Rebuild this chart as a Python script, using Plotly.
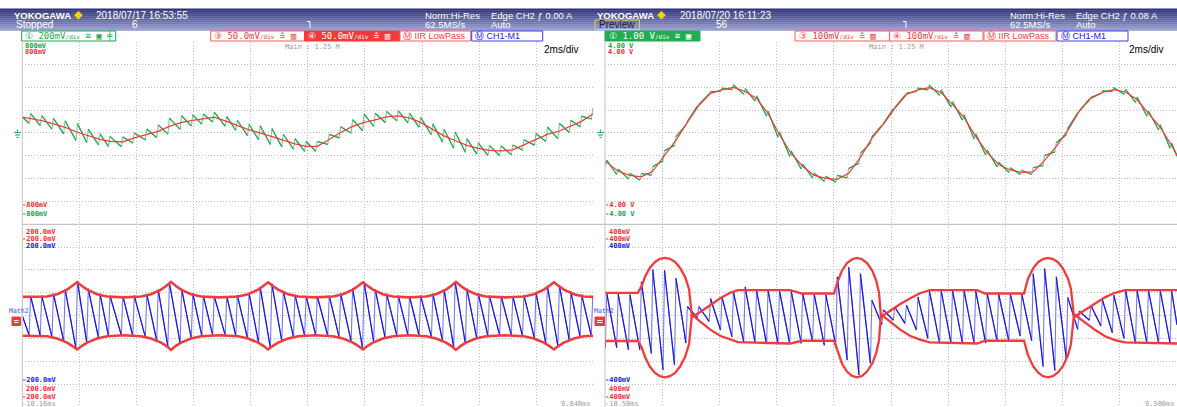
import plotly.graph_objects as go

W, H = 1177, 407
MONO = "DejaVu Sans Mono, monospace"
NARROW = "Liberation Sans Narrow, Liberation Sans, Arial, sans-serif"
SANS = "Liberation Sans, Arial, sans-serif"

C_GREEN = "#1fa84f"
C_GREEN_LT = "#74cf92"
C_RED = "#f03c3c"
C_BLUE = "#1818e6"
C_BLUE_LT = "#7878f2"
C_GRID = "#bcbcbc"
C_FRAME = "#c4c4c4"
C_GREY_TXT = "#9a9a9a"

# ---------------- left capture: 2018/07/17 16:53:55 ----------------
T_LEFT = (-10.16, 9.84)  # ms
tooth_t_left = [-9.87, -9.48, -9.07, -8.66, -8.23, -7.85, -7.44, -7.09, -6.64, -6.24,
                -5.80, -5.40, -5.01, -4.58, -4.19, -3.82, -3.44, -3.00, -2.63, -2.22,
                -1.83, -1.42, -1.02, -0.61, -0.22, 0.17, 0.59, 0.99, 1.41, 1.81,
                2.20, 2.60, 3.01, 3.40, 3.79, 4.22, 4.61, 5.00, 5.41, 5.81,
                6.20, 6.61, 7.02, 7.41, 7.83, 8.23, 8.65, 9.05, 9.43, 9.82]
# M1 = IIR low-pass of CH1 (mV) at each tooth
m1_left_mv = [127, 107, 79, 48, 6, -26, -57, -74, -79, -44,
              -13, 13, 57, 92, 109, 122, 138, 101, 66, 26,
              0, -31, -66, -96, -118, -118, -57, 4, 57, 92,
              114, 140, 149, 131, 92, 31, -26, -66, -109, -136,
              -153, -157, -149, -105, -57, -13, 17, 57, 101, 166]
m1_left_ends_mv = (138, 168)
# Math2 = CH1 - M1 (mV): peak of each tooth and the low point just before its edge
math2_hi_left_mv = [43, 44, 48, 58, 76, 59, 48, 44, 43, 44,
                    47, 57, 73, 59, 49, 44, 43, 43, 45, 50,
                    63, 70, 54, 46, 43, 43, 44, 49, 60, 74,
                    58, 48, 44, 43, 44, 48, 58, 74, 59, 49,
                    44, 43, 43, 45, 51, 65, 67, 53, 46, 43]
math2_lo_left_mv = [-43, -44, -47, -56, -72, -60, -49, -45, -43, -44,
                    -47, -55, -68, -61, -50, -45, -43, -43, -45, -50,
                    -60, -71, -56, -47, -44, -43, -44, -48, -57, -73,
                    -58, -49, -44, -43, -44, -47, -56, -69, -61, -50,
                    -45, -43, -43, -45, -50, -62, -67, -54, -47, -44]
math2_left_ends_mv = (0, 38)
# peak-hold envelope of Math2 (mV)
env_t_left = [-10.16, -9.29, -8.94, -8.59, -8.42, -8.24,
              -8.07, -7.89, -7.54, -7.19, -6.60, -6.00, -5.65, -5.30, -5.12, -4.95,
              -4.78, -4.60, -4.25, -3.90, -3.25, -2.60, -2.25, -1.90, -1.72, -1.55,
              -1.38, -1.20, -0.85, -0.50, 0.11, 0.72, 1.07, 1.42, 1.60, 1.77,
              1.94, 2.12, 2.47, 2.82, 3.40, 3.98, 4.33, 4.68, 4.86, 5.03,
              5.20, 5.38, 5.73, 6.08, 6.75, 7.41, 7.76, 8.11, 8.29, 8.46,
              8.63, 8.81, 9.16, 9.51, 9.84]
env_top_left_mv = [41, 42, 47, 57, 65, 73,
                   65, 57, 47, 42, 40, 42, 47, 57, 65, 74,
                   65, 57, 47, 42, 40, 42, 47, 57, 65, 73,
                   65, 57, 47, 42, 40, 42, 47, 57, 65, 73,
                   65, 57, 47, 42, 40, 42, 47, 57, 65, 74,
                   65, 57, 47, 42, 40, 42, 47, 57, 65, 73,
                   65, 57, 47, 42, 41]
env_bot_left_mv = [-44, -45, -50, -59, -66, -74,
                   -66, -59, -50, -45, -43, -45, -50, -59, -66, -75,
                   -66, -59, -50, -45, -43, -45, -50, -59, -66, -74,
                   -66, -59, -50, -45, -43, -45, -50, -59, -66, -74,
                   -66, -59, -50, -45, -43, -45, -50, -59, -66, -75,
                   -66, -59, -50, -45, -43, -45, -50, -59, -66, -74,
                   -66, -59, -50, -45, -44]

# ---------------- right capture: 2018/07/20 16:11:23 ----------------
T_RIGHT = (-10.50, 9.50)
tooth_t_right = [-10.44, -10.04, -9.63, -9.23, -8.83, -8.42, -8.02, -7.62, -7.22, -6.81,
                 -6.41, -6.01, -5.60, -5.20, -4.80, -4.40, -3.99, -3.59, -3.19, -2.78,
                 -2.38, -1.98, -1.57, -1.17, -0.77, -0.37, 0.04, 0.44, 0.84, 1.25,
                 1.65, 2.05, 2.46, 2.86, 3.26, 3.67, 4.07, 4.47, 4.87, 5.28,
                 5.68, 6.08, 6.49, 6.89, 7.29, 7.70, 8.10, 8.50, 8.91, 9.31]
m1_right_v = [-1.29, -1.68, -1.86, -1.92, -1.68, -0.98, -0.33, 0.46, 1.20, 1.73,
              1.88, 1.99, 1.81, 1.51, 0.85, -0.07, -0.90, -1.46, -1.86, -1.99,
              -2.03, -1.77, -1.07, -0.24, 0.37, 1.07, 1.68, 1.88, 1.98, 1.77,
              1.25, 0.68, -0.15, -0.85, -1.38, -1.62, -1.73, -1.71, -1.20, -0.59,
              0.11, 0.94, 1.51, 1.77, 1.89, 1.79, 1.46, 0.85, 0.25, -0.55]
m1_right_ends_v = (-1.25, -0.98)
math2_hi_right_mv = [100, 95, 92, 148, 202, 199, 164, 40, 40, 75,
                     82, 104, 126, 110, 112, 110, 108, 100, 95, 92,
                     170, 213, 184, 68, 25, 38, 46, 82, 111, 112,
                     112, 112, 110, 100, 97, 95, 97, 184, 206, 170,
                     80, 20, 45, 70, 90, 112, 112, 112, 112, 110]
math2_lo_right_mv = [-140, -140, -150, -150, -165, -238, -216, -120, -10, -25,
                     -63, -93, -115, -120, -125, -125, -125, -122, -115, -130,
                     -130, -195, -260, -209, -40, -20, -34, -63, -100, -122,
                     -122, -122, -122, -120, -110, -110, -90, -110, -224, -240,
                     -190, -60, -20, -45, -75, -100, -122, -122, -122, -122]
math2_right_ends_mv = (-100, -40)
env_t_right = [-10.50, -9.35, -9.21, -9.10, -8.93, -8.75, -8.58, -8.40, -8.23, -8.05,
               -7.88, -7.70, -7.56, -7.46, -7.18, -6.83, -6.48, -6.13, -5.85, -4.03,
               -3.61, -2.49, -2.35, -2.21, -2.04, -1.86, -1.69, -1.51, -1.34, -1.16,
               -1.02, -0.92, -0.85, -0.54, -0.19, 0.16, 0.51, 0.86, 2.51, 2.79,
               4.15, 4.29, 4.47, 4.64, 4.81, 4.99, 5.16, 5.34, 5.51, 5.69,
               5.79, 5.90, 6.28, 6.63, 6.98, 7.33, 7.68, 9.50]
env_top_right_mv = [100, 100, 133, 170, 210, 235, 249, 253, 249, 235,
                    210, 170, 116, -6, 15, 45, 75, 100, 112, 112,
                    97, 97, 155, 198, 230, 247, 253, 247, 230, 198,
                    155, 101, -6, 20, 50, 75, 98, 112, 112, 97,
                    97, 162, 207, 234, 248, 253, 248, 234, 207, 162,
                    118, -6, 25, 55, 80, 100, 112, 112]
env_bot_right_mv = [-111, -111, -141, -181, -224, -251, -265, -270, -265, -251,
                    -224, -181, -124, 6, -25, -60, -88, -105, -116, -122,
                    -110, -110, -165, -211, -245, -264, -270, -264, -245, -211,
                    -165, -108, 6, -25, -60, -88, -105, -117, -122, -110,
                    -110, -173, -221, -249, -265, -270, -265, -249, -221, -173,
                    -126, 6, -30, -62, -90, -107, -117, -122]

EDGE = 0.05  # ms, drawn duration of each rising tooth edge


def tooth_vertices(t, lo, hi, t_ends, v_ends, base=None, base_ends=(0, 0), k=1.0):
    """Polyline through each tooth: low point just before the edge, then the peak."""
    if base is None:
        base = [0.0] * len(t)
    xs = [t_ends[0]]
    ys = [base_ends[0] + k * v_ends[0]]
    for ti, bi, l, h in zip(t, base, lo, hi):
        xs += [ti - EDGE, ti]
        ys += [bi + k * l, bi + k * h]
    xs.append(t_ends[1])
    ys.append(base_ends[1] + k * v_ends[1])
    return xs, ys


def falling_segments(xs, ys):
    """The slow (falling) parts of a tooth polyline, separated by gaps."""
    sx, sy = [], []
    for a in range(0, len(xs) - 1, 2):
        sx += [xs[a], xs[a + 1], None]
        sy += [ys[a], ys[a + 1], None]
    return sx, sy


fig = go.Figure()


def add_line(xs, ys, axes, color, width):
    fig.add_trace(go.Scatter(x=xs, y=ys, mode="lines", xaxis=axes[0], yaxis=axes[1],
                             line=dict(color=color, width=width), hoverinfo="skip"))


def draw_capture(t, m1, hi, lo, t_ends, m1_ends, m_ends, env_t, env_top, env_bot,
                 up_axes, low_axes, k, env_width):
    # CH1 = M1 + Math2
    gx, gy = tooth_vertices(t, lo, hi, t_ends, m_ends, base=m1, base_ends=m1_ends, k=k)
    add_line(gx, gy, up_axes, C_GREEN_LT, 1.1)
    add_line(*falling_segments(gx, gy), up_axes, C_GREEN, 1.2)
    add_line([t_ends[0]] + t + [t_ends[1]], [m1_ends[0]] + m1 + [m1_ends[1]],
             up_axes, C_RED, 1.2)
    # Math2 with its envelope
    bx, by = tooth_vertices(t, lo, hi, t_ends, m_ends)
    add_line(bx, by, low_axes, C_BLUE_LT, 1.1)
    add_line(*falling_segments(bx, by), low_axes, C_BLUE, 1.2)
    add_line(env_t, env_top, low_axes, C_RED, env_width)
    add_line(env_t, env_bot, low_axes, C_RED, env_width)


draw_capture(tooth_t_left, m1_left_mv, math2_hi_left_mv, math2_lo_left_mv, T_LEFT,
             m1_left_ends_mv, math2_left_ends_mv, env_t_left, env_top_left_mv,
             env_bot_left_mv, ("x", "y"), ("x2", "y2"), 1.0, 2.6)
draw_capture(tooth_t_right, m1_right_v, math2_hi_right_mv, math2_lo_right_mv, T_RIGHT,
             m1_right_ends_v, math2_right_ends_mv, env_t_right, env_top_right_mv,
             env_bot_right_mv, ("x3", "y3"), ("x4", "y4"), 0.001, 2.3)

# ---------------- axes (screen grid) ----------------
TOP, MID, BOT = 41.5, 224.3, 407.0
L0, L1, R0 = 22.3, 593.3, 605.0


def px(x):
    return x / W


def py(y):
    return 1 - y / H


grid = dict(showgrid=True, gridcolor=C_GRID, griddash="1px,2px", gridwidth=1,
            zeroline=False, showticklabels=False, ticks="", showline=False, fixedrange=True)

fig.update_layout(
    xaxis=dict(domain=[px(L0), px(L1)], range=list(T_LEFT), tick0=T_LEFT[0], dtick=2, anchor="y", **grid),
    yaxis=dict(domain=[py(MID), py(TOP)], range=[-800, 800], tick0=0, dtick=200, anchor="x", **grid),
    xaxis2=dict(domain=[px(L0), px(L1)], range=list(T_LEFT), tick0=T_LEFT[0], dtick=2, anchor="y2", **grid),
    yaxis2=dict(domain=[0, py(MID)], range=[-200, 200], tick0=0, dtick=50, anchor="x2", **grid),
    xaxis3=dict(domain=[px(R0), 1.0], range=list(T_RIGHT), tick0=T_RIGHT[0], dtick=2, anchor="y3", **grid),
    yaxis3=dict(domain=[py(MID), py(TOP)], range=[-4, 4], tick0=0, dtick=1, anchor="x3", **grid),
    xaxis4=dict(domain=[px(R0), 1.0], range=list(T_RIGHT), tick0=T_RIGHT[0], dtick=2, anchor="y4", **grid),
    yaxis4=dict(domain=[0, py(MID)], range=[-400, 400], tick0=0, dtick=100, anchor="x4", **grid),
)

shapes = []
annotations = []


def rect(x0, y0, x1, y1, fill=None, line=None, lw=1):
    shapes.append(dict(type="rect", xref="paper", yref="paper",
                       x0=px(x0), x1=px(x1), y0=py(y1), y1=py(y0),
                       fillcolor=fill or "rgba(0,0,0,0)",
                       line=dict(color=line or "rgba(0,0,0,0)", width=lw if line else 0)))


def seg(x0, y0, x1, y1, color, width=1):
    shapes.append(dict(type="line", xref="paper", yref="paper",
                       x0=px(x0), x1=px(x1), y0=py(y0), y1=py(y1),
                       line=dict(color=color, width=width)))


def text(x, y, s, color, size=7, family=MONO, anchor="left", bold=False):
    annotations.append(dict(x=px(x), y=py(y), xref="paper", yref="paper",
                            text=f"<b>{s}</b>" if bold else s, showarrow=False,
                            xanchor=anchor, yanchor="middle", borderpad=0,
                            font=dict(family=family, size=size, color=color)))


# header band
top_rgb, bot_rgb = (44, 48, 118), (150, 155, 205)
n_strips = 11
for i in range(n_strips):
    f = i / (n_strips - 1)
    c = tuple(round(a + (b - a) * f) for a, b in zip(top_rgb, bot_rgb))
    y0 = 8.5 + 2 * i
    rect(0, y0, W, y0 + 2.3, fill=f"rgb{c}")

# screen frame lines
seg(L0, TOP, L0, BOT, C_FRAME, 1)
seg(R0, TOP, R0, BOT, C_FRAME, 1)
seg(L0, MID, W, MID, C_FRAME, 1.2)

# header text
for x0, date, count, trig_x, trig_lvl in [
        (12.5, "2018/07/17 16:53:55", "6", 310, "0.00 A"),
        (596, "2018/07/20 16:11:23", "56", 906, "0.08 A")]:
    text(x0, 15, "YOKOGAWA", "white", 9.5, SANS, bold=True)
    text(x0 + 60, 14.5, "\u25c6", "#f2d400", 11, SANS)
    text(x0 + 82.5, 15, date, "white", 10, NARROW)
    text(x0 + 118.5, 24.5, count, "white", 10, NARROW)
    # trigger position marker
    seg(trig_x, 21.5, trig_x, 28, "white", 1)
    seg(trig_x - 3, 21.5, trig_x, 21.5, "white", 1)
    info_x = x0 + (411.5 if x0 < 300 else 413)
    text(info_x, 15, "Norm:Hi-Res", "white", 9.5, NARROW)
    text(info_x, 24.5, "62.5MS/s", "white", 9.5, NARROW)
    text(info_x + 66, 15, f"Edge CH2 \u0192 {trig_lvl}", "white", 9.5, NARROW)
    text(info_x + 66, 24.5, "Auto", "white", 9.5, NARROW)

text(15, 24.5, "Stopped", "white", 10, NARROW)
rect(595, 20, 639.5, 29.5, line="#e3d24a", lw=1)
text(598, 24.7, "Preview", "#1c1c3c", 10, NARROW)

# channel bar
DIV = "<span style='font-size:6px'>/div</span>"
rect(21.7, 31, 115.7, 41, fill="white", line=C_GREEN)
text(24, 36, f"\u2460 200mV{DIV} \u2245 \u25a3 \u256a", C_GREEN, 9, MONO)
rect(210.7, 31, 304.5, 41, fill="white", line="#ff5a5a")
text(213, 36, f"\u2462 50.0mV{DIV} \u225b \u25a5", C_RED, 9, MONO)
rect(304.5, 31, 400, 41, fill="#f23a3a", line="#f23a3a")
text(307, 36, f"\u2463 50.0mV{DIV} \u225b \u25a5", "white", 9, MONO)
rect(400, 31, 470.7, 41, fill="white", line="#ff5a5a")
text(402, 36, "\u24c2 IIR LowPass", C_RED, 9, NARROW)
rect(471.7, 31, 542.7, 41, fill="white", line="#3a3aff")
text(474, 36, "\u24c2 CH1-M1", C_BLUE, 9, NARROW)

rect(605, 31, 700, 41, fill="#22ad52", line="#22ad52")
text(608, 36, f"\u2460 1.00 V{DIV} \u2245 \u25a3", "white", 9, MONO)
rect(795, 31, 889.5, 41, fill="white", line="#ff5a5a")
text(798, 36, f"\u2462 100mV{DIV} \u225b \u25a5", C_RED, 9, MONO)
rect(889.5, 31, 983, 41, fill="white", line="#ff5a5a")
text(892, 36, f"\u2463 100mV{DIV} \u225b \u25a5", C_RED, 9, MONO)
rect(984, 31, 1056, 41, fill="white", line="#ff5a5a")
text(986, 36, "\u24c2 IIR LowPass", C_RED, 9, NARROW)
rect(1057, 31, 1128, 41, fill="white", line="#3a3aff")
text(1059.5, 36, "\u24c2 CH1-M1", C_BLUE, 9, NARROW)

# zoom / timebase
text(284, 47.5, "Main : 1.25 M", C_GREY_TXT, 7, MONO)
text(868, 47.5, "Main : 1.25 M", C_GREY_TXT, 7, MONO)
text(543, 49.5, "2ms/div", "black", 10, SANS)
text(1128, 49.5, "2ms/div", "black", 10, SANS)

# scale labels
C_GREEN_TXT, C_RED_TXT, C_BLUE_TXT = "#1aa448", "#f03030", "#2020f0"
for x0, up, lo, t0 in [(L0, ("800mV", "-800mV"), ("200.0mV", "-200.0mV"), "-10.16ms"),
                       (R0, ("4.00 V", "-4.00 V"), ("400mV", "-400mV"), "-10.50ms")]:
    text(x0 + 1.5, 45.5, up[0], C_GREEN_TXT, 7, bold=True)
    text(x0 + 1.5, 52.5, up[0], C_RED_TXT, 7, bold=True)
    text(x0 - 1, 205, up[1], C_RED_TXT, 7, bold=True)
    text(x0 - 1, 213.5, up[1], C_GREEN_TXT, 7, bold=True)
    text(x0 + 2.5, 231.5, lo[0], C_RED_TXT, 7, bold=True)
    text(x0 - 1, 238.5, lo[1], C_RED_TXT, 7, bold=True)
    text(x0 + 2.5, 246, lo[0], C_BLUE_TXT, 7, bold=True)
    text(x0 - 1, 380, lo[1], C_BLUE_TXT, 7, bold=True)
    text(x0 + 2.5, 388.5, lo[0], C_RED_TXT, 7, bold=True)
    text(x0 - 1, 396.8, lo[1], C_RED_TXT, 7, bold=True)
    text(x0 - 1, 403.5, t0, C_GREY_TXT, 7)
text(L1 - 1, 403.5, "9.840ms", C_GREY_TXT, 7, anchor="right")
text(W - 1, 403.5, "9.500ms", C_GREY_TXT, 7, anchor="right")

# ground markers (CH1 / CH3 offset)
for gx0 in (14, 597):
    seg(gx0 + 3.5, 129.5, gx0 + 3.5, 132.5, "#35b060", 1)
    seg(gx0, 132.5, gx0 + 7, 132.5, "#35b060", 1.2)
    seg(gx0 + 1.2, 135, gx0 + 5.8, 135, "#35b060", 1.2)
    seg(gx0 + 2.4, 137.5, gx0 + 4.6, 137.5, "#35b060", 1.2)

# Math2 markers
for mx, bx0, bx1 in ((8, 12, 20.5), (593, 595, 604.5)):
    text(mx, 310.5, "Math2", "#3050f0", 6.5, MONO)
    rect(bx0, 317, bx1, 325.5, fill="#f03a3a", line="#f03a3a")
    seg(bx0 + 2, 320.5, bx1 - 2, 320.5, "white", 1)
    seg(bx0 + 2, 322.5, bx1 - 2, 322.5, "white", 1)

fig.update_layout(
    width=W, height=H, margin=dict(l=0, r=0, t=0, b=0, pad=0),
    paper_bgcolor="white", plot_bgcolor="rgba(0,0,0,0)",
    showlegend=False, shapes=shapes, annotations=annotations,
)

fig.write_html("out.html")
